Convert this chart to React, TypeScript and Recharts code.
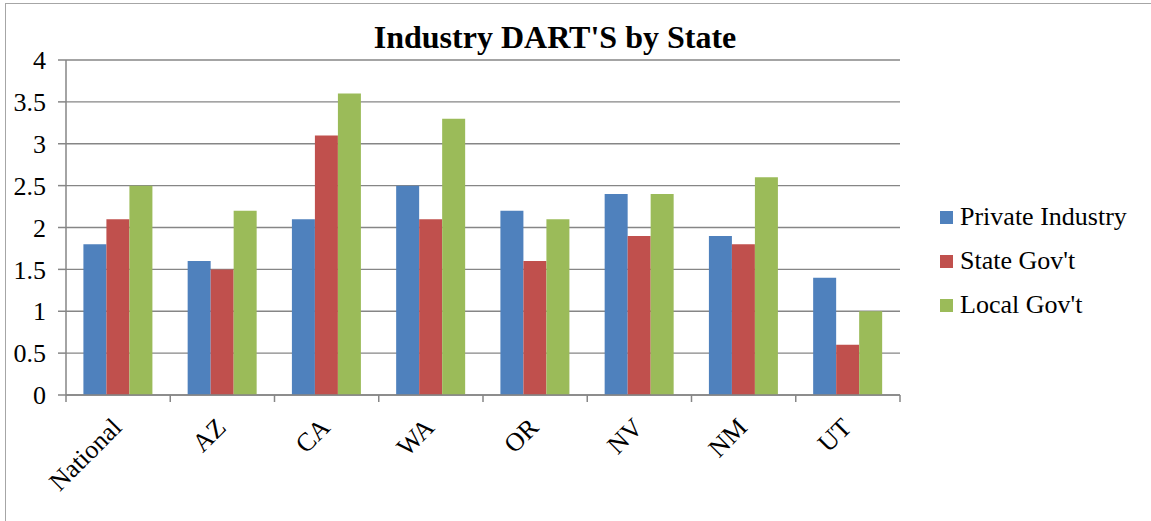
import { BarChart, Bar, XAxis, YAxis, CartesianGrid, Legend } from 'recharts';

const states = ['National', 'AZ', 'CA', 'WA', 'OR', 'NV', 'NM', 'UT'];
const privateIndustry = [1.8, 1.6, 2.1, 2.5, 2.2, 2.4, 1.9, 1.4];
const stateGov = [2.1, 1.5, 3.1, 2.1, 1.6, 1.9, 1.8, 0.6];
const localGov = [2.5, 2.2, 3.6, 3.3, 2.1, 2.4, 2.6, 1.0];
const seriesNames = ['Private Industry', "State Gov't", "Local Gov't"];
const yTicks = [0, 0.5, 1, 1.5, 2, 2.5, 3, 3.5, 4];

const data = states.map((s, i) => ({
  state: s,
  privateIndustry: privateIndustry[i],
  stateGov: stateGov[i],
  localGov: localGov[i],
}));

const W = 1151;
const H = 521;
const RIGHT = 251;
const Y_W = 66;
const X_H = 126;
const band = (W - Y_W - RIGHT) / states.length;
const AXIS = '#868686';
const FONT = "'Liberation Serif', 'Times New Roman', serif";

// ticks sit between the categories, labels are turned 45 degrees
const StateTick = (props: any) => {
  const { x, y, payload } = props;
  const last = payload.value === states[states.length - 1];
  const tx = x + 5;
  const ty = y + 34;
  return (
    <g>
      <line x1={x - band / 2} y1={y} x2={x - band / 2} y2={y + 7} stroke={AXIS} strokeWidth={1.5} />
      {last && <line x1={x + band / 2} y1={y} x2={x + band / 2} y2={y + 7} stroke={AXIS} strokeWidth={1.5} />}
      <text
        x={tx}
        y={ty}
        textAnchor="end"
        transform={`rotate(-45 ${tx} ${ty})`}
        fontSize={26}
        fontFamily={FONT}
        fill="#000"
      >
        {payload.value}
      </text>
    </g>
  );
};

const LegendBox = ({ payload }: any) => {
  const items = [...(payload || [])].sort(
    (a: any, b: any) => seriesNames.indexOf(a.value) - seriesNames.indexOf(b.value)
  );
  return (
    <div style={{ fontFamily: FONT }}>
      {items.map((p: any) => (
        <div key={p.value} style={{ display: 'flex', alignItems: 'center', height: 44 }}>
          <span style={{ width: 13, height: 13, background: p.color, marginRight: 7, display: 'inline-block' }} />
          <span style={{ fontSize: 26, lineHeight: '26px', color: '#000', fontFamily: FONT }}>{p.value}</span>
        </div>
      ))}
    </div>
  );
};

export default function App() {
  return (
    <div style={{ position: 'absolute', left: 0, top: 0, width: W, height: H, overflow: 'hidden', background: '#fff' }}>
      <div
        style={{
          position: 'absolute',
          left: 5,
          top: 3,
          width: 1300,
          height: 700,
          border: '1px solid #a6a6a6',
        }}
      />
      <div
        style={{
          position: 'absolute',
          left: 0,
          top: 21,
          width: 1110,
          textAlign: 'center',
          fontFamily: FONT,
          fontWeight: 'bold',
          fontSize: 32,
          lineHeight: '32px',
          color: '#000',
        }}
      >
        Industry DART'S by State
      </div>
      <div style={{ position: 'absolute', left: 0, top: 0 }}>
        <BarChart
          width={W}
          height={H}
          data={data}
          margin={{ top: 60, right: RIGHT, left: 0, bottom: 0 }}
          barCategoryGap="16.7%"
          barGap={0}
          style={{ fontFamily: FONT }}
        >
          <CartesianGrid vertical={false} stroke={AXIS} strokeWidth={1.3} />
          <XAxis
            dataKey="state"
            height={X_H}
            interval={0}
            tickLine={false}
            tickSize={0}
            tickMargin={0}
            axisLine={{ stroke: AXIS, strokeWidth: 1.5 }}
            tick={<StateTick />}
          />
          <YAxis
            width={Y_W}
            domain={[0, 4]}
            ticks={yTicks}
            interval={0}
            tickSize={8}
            tickMargin={12}
            axisLine={{ stroke: AXIS, strokeWidth: 1.5 }}
            tickLine={{ stroke: AXIS, strokeWidth: 1.5 }}
            tick={{ fontSize: 26, fill: '#000', fontFamily: FONT }}
          />
          <Legend
            layout="vertical"
            align="center"
            verticalAlign="middle"
            content={<LegendBox />}
            wrapperStyle={{ left: 940, top: 195, width: 210 }}
          />
          <Bar dataKey="privateIndustry" name={seriesNames[0]} fill="#4F81BD" isAnimationActive={false} />
          <Bar dataKey="stateGov" name={seriesNames[1]} fill="#C0504D" isAnimationActive={false} />
          <Bar dataKey="localGov" name={seriesNames[2]} fill="#9BBB59" isAnimationActive={false} />
        </BarChart>
      </div>
    </div>
  );
}
